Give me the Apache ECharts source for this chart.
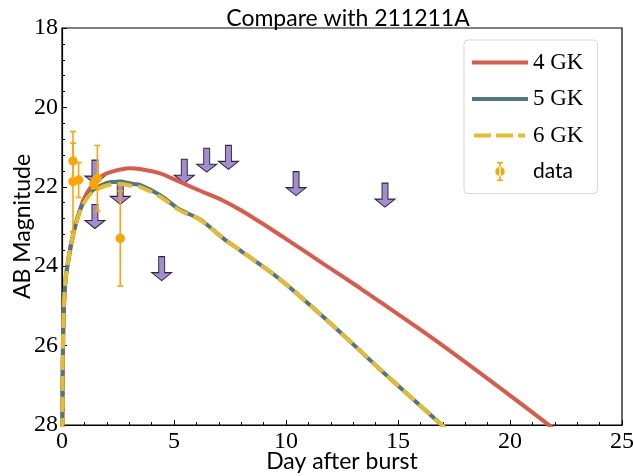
<!DOCTYPE html>
<html>
<head>
<meta charset="utf-8">
<script src="https://cdn.jsdelivr.net/npm/echarts@6/dist/echarts.min.js"></script>
<style>html,body{margin:0;padding:0;background:#fff}#c{width:634px;height:476px}</style>
</head>
<body>
<div id="c"></div>
<script>
// ---- data ----
const xTicks = [0, 5, 10, 15, 20, 25];
const yTicks = [18, 20, 22, 24, 26, 28];

const days4GK = [0.02, 0.03, 0.05, 0.08, 0.12, 0.17, 0.26, 0.44, 0.66, 0.94, 1.3, 1.8, 2.35, 3.0, 3.48, 4.38, 5.27, 6.16, 7.2, 7.95, 9.43, 10.18, 11.67, 13.3, 14.2, 16.0, 17.9, 19.8, 21.64, 21.9];
const mag4GK  = [28.2, 27.0, 26.0, 25.2, 24.7, 24.3, 23.95, 23.38, 22.85, 22.35, 22.0, 21.72, 21.6, 21.53, 21.55, 21.66, 21.88, 22.1, 22.35, 22.58, 23.1, 23.38, 23.94, 24.55, 24.9, 25.6, 26.37, 27.17, 27.96, 28.07];

const days5GK = [0.01, 0.02, 0.04, 0.07, 0.11, 0.16, 0.24, 0.42, 0.64, 0.94, 1.31, 1.8, 2.2, 2.6, 3.17, 3.48, 4.38, 5.27, 6.16, 7.2, 7.95, 9.43, 10.03, 12.2, 14.2, 16.88, 17.1];
const mag5GK  = [28.2, 27.0, 26.0, 25.2, 24.7, 24.3, 23.97, 23.38, 22.88, 22.42, 22.12, 21.95, 21.88, 21.87, 21.93, 21.95, 22.21, 22.58, 22.82, 23.3, 23.6, 24.2, 24.47, 25.55, 26.6, 27.96, 28.07];

const days6GK = [0.01, 0.02, 0.04, 0.07, 0.11, 0.16, 0.24, 0.42, 0.64, 0.94, 1.31, 1.8, 2.2, 2.6, 3.17, 3.48, 4.38, 5.27, 6.16, 7.2, 7.95, 9.43, 10.03, 12.2, 14.2, 16.88, 17.1];
const mag6GK  = [28.2, 27.0, 26.0, 25.2, 24.7, 24.3, 23.98, 23.4, 22.9, 22.45, 22.16, 22.0, 21.94, 21.93, 21.98, 22.0, 22.25, 22.6, 22.83, 23.3, 23.6, 24.2, 24.47, 25.55, 26.6, 27.96, 28.07];

const dataDays = [0.49, 0.49, 0.74, 1.42, 1.58, 2.6];
const dataMag  = [21.35, 21.87, 21.83, 21.93, 21.79, 23.3];
const dataErr  = [0.45, 1.26, 0.44, 0.12, 0.83, 1.2];

const limDays = [1.47, 1.47, 2.6, 4.45, 5.46, 6.46, 7.43, 10.45, 14.42];
const limMag  = [21.63, 22.75, 22.14, 24.06, 21.61, 21.33, 21.26, 21.92, 22.21];

// ---- build ----
const zip = (a, b) => a.map((v, i) => [v, b[i]]);
const ORANGE = '#ffa500';
const RED = '#dc5a48', TEAL = '#4b7787', YEL = '#e8bb2c';
const serif = 'Liberation Serif';
const sans = 'Lato';
const arrowPath = 'path://M7 0 H13 V16 H20 L10 24 L0 16 H7 Z';
const solidIcon = 'path://M0 0 M56 22 M0 9 H56 V13 H0 Z';
const dashIcon = 'path://M0 0 M56 22 M2 9 H19 V13 H2 Z M24 9 H41 V13 H24 Z M46 9 H53 V13 H46 Z';
const dataIcon = 'path://M0 0 M56 22 M27.2 1.5 H28.8 V20.5 H27.2 Z M25 1.5 H31 V3 H25 Z M25 19 H31 V20.5 H25 Z M23.3 11 A4.7 4.7 0 1 0 32.7 11 A4.7 4.7 0 1 0 23.3 11 Z';

const chart = echarts.init(document.getElementById('c'), null, {renderer: 'canvas'});
chart.setOption({
  animation: false,
  backgroundColor: '#fff',
  title: {
    text: 'Compare with 211211A',
    left: 343, top: 2, textAlign: 'center',
    textStyle: {fontFamily: sans, fontSize: 23, fontWeight: 'normal', color: '#000'}
  },
  grid: {left: 62, right: 12, top: 28, bottom: 51, containLabel: false, outerBoundsMode: 'none',
         show: true, borderColor: '#000', borderWidth: 1.2, backgroundColor: 'transparent'},
  legend: {
    orient: 'vertical', left: 464, top: 40,
    padding: [11, 14, 11, 8],
    itemWidth: 56, itemHeight: 22, itemGap: 13.5, itemTextGap: 18,
    backgroundColor: '#fff', borderColor: '#d6d6d6', borderWidth: 1, borderRadius: 4,
    itemStyle: {borderWidth: 0},
    data: [
      {name: '4 GK', icon: solidIcon, textStyle: {fontFamily: serif, fontSize: 23, color: '#000'}},
      {name: '5 GK', icon: solidIcon, textStyle: {fontFamily: serif, fontSize: 23, color: '#000'}},
      {name: '6 GK', icon: dashIcon, textStyle: {fontFamily: serif, fontSize: 23, color: '#000'}},
      {name: 'data', icon: dataIcon, textStyle: {fontFamily: sans, fontSize: 21, color: '#000'}}
    ]
  },
  xAxis: {
    type: 'value', min: 0, max: 25, interval: 5,
    name: 'Day after burst', nameLocation: 'middle', nameGap: 25, nameMoveOverlap: false,
    nameTextStyle: {fontFamily: sans, fontSize: 23, color: '#000'},
    axisLine: {lineStyle: {color: '#000', width: 1.2}},
    axisTick: {inside: true, length: 5, lineStyle: {color: '#000'}},
    minorTick: {show: true, splitNumber: 5, length: 3, lineStyle: {color: '#000'}},
    axisLabel: {margin: 5, fontFamily: serif, fontSize: 24, color: '#000', formatter: v => xTicks.includes(v) ? String(v) : ''},
    splitLine: {show: false}
  },
  yAxis: {
    type: 'value', min: 18, max: 28, interval: 2, inverse: true,
    name: 'AB Magnitude', nameLocation: 'middle', nameGap: 28, nameMoveOverlap: false,
    nameTextStyle: {fontFamily: sans, fontSize: 23, color: '#000'},
    axisLine: {show: true, lineStyle: {color: '#000', width: 1.2}},
    axisTick: {show: true, inside: true, length: 5, lineStyle: {color: '#000'}},
    minorTick: {show: true, splitNumber: 5, length: 3, lineStyle: {color: '#000'}},
    axisLabel: {margin: 4, fontFamily: serif, fontSize: 24, color: '#000', formatter: v => yTicks.includes(v) ? String(v) : ''},
    splitLine: {show: false}
  },
  series: [
    {
      name: 'limits', type: 'scatter', z: 1,
      symbol: arrowPath, symbolSize: [20, 24],
      itemStyle: {color: '#8c6fc9', borderColor: '#000', borderWidth: 1},
      data: zip(limDays, limMag)
    },
    {
      name: '4 GK', type: 'line', z: 2, showSymbol: false, symbol: 'none', smooth: 0.3,
      lineStyle: {color: RED, width: 4}, itemStyle: {color: RED},
      data: zip(days4GK, mag4GK)
    },
    {
      name: '5 GK', type: 'line', z: 3, showSymbol: false, symbol: 'none', smooth: 0.3,
      lineStyle: {color: TEAL, width: 4}, itemStyle: {color: TEAL},
      data: zip(days5GK, mag5GK)
    },
    {
      name: '6 GK', type: 'line', z: 4, showSymbol: false, symbol: 'none', smooth: 0.3,
      lineStyle: {color: YEL, width: 4, type: [15, 6]}, itemStyle: {color: YEL},
      data: zip(days6GK, mag6GK)
    },
    {
      name: 'data', type: 'custom', z: 5,
      itemStyle: {color: ORANGE},
      encode: {x: 0, y: 1},
      data: dataDays.map((d, i) => [d, dataMag[i], dataErr[i]]),
      renderItem: function (params, api) {
        const x = api.value(0), y = api.value(1), e = api.value(2);
        const p = api.coord([x, y]);
        const t = api.coord([x, y - e]);
        const b = api.coord([x, y + e]);
        const st = {stroke: ORANGE, lineWidth: 1.6};
        return {type: 'group', children: [
          {type: 'line', shape: {x1: p[0], y1: t[1], x2: p[0], y2: b[1]}, style: st},
          {type: 'line', shape: {x1: p[0] - 3, y1: t[1], x2: p[0] + 3, y2: t[1]}, style: st},
          {type: 'line', shape: {x1: p[0] - 3, y1: b[1], x2: p[0] + 3, y2: b[1]}, style: st},
          {type: 'circle', shape: {cx: p[0], cy: p[1], r: 4.7}, style: {fill: ORANGE}}
        ]};
      }
    }
  ]
});
</script>
</body>
</html>
